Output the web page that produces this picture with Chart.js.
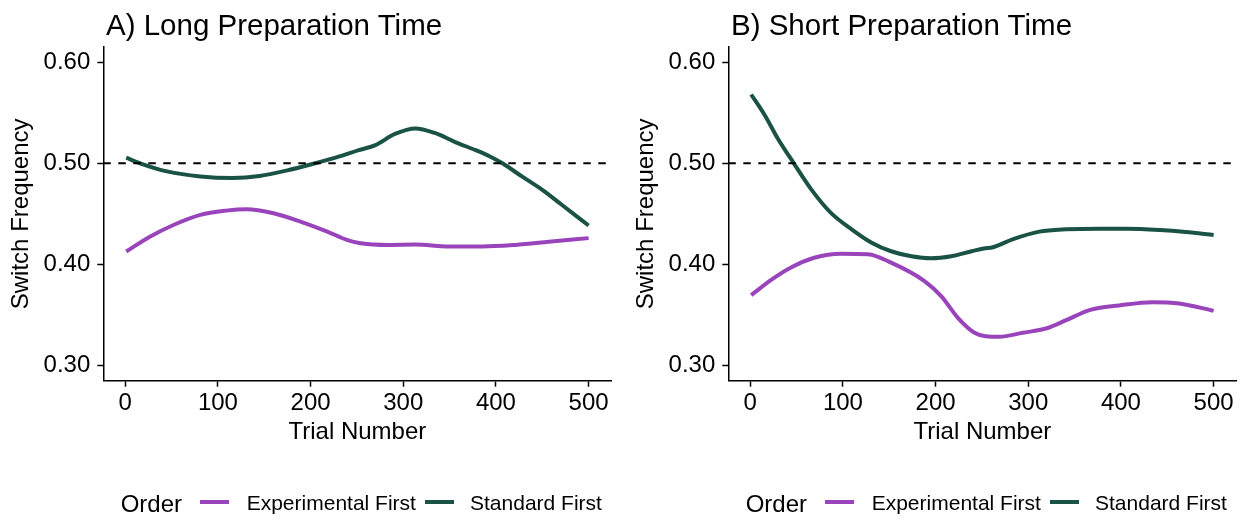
<!DOCTYPE html>
<html><head><meta charset="utf-8">
<script src="https://cdn.jsdelivr.net/npm/chart.js@4/dist/chart.umd.min.js"></script>
<style>
body{margin:0;background:#fff;width:1246px;height:520px;overflow:hidden;font-family:"Liberation Sans",Arial,Helvetica,sans-serif;color:#000;}
.panel{position:absolute;top:0;width:621px;height:520px;}
.panel canvas{position:absolute;left:0;top:0;}
.ttl{position:absolute;left:106px;top:10px;font-size:29.5px;line-height:1;white-space:nowrap;}
.lgT{position:absolute;left:120.7px;top:491.7px;font-size:24px;line-height:1;white-space:nowrap;}
.lgS{position:absolute;top:500.3px;width:29px;height:4px;}
.lgL{position:absolute;top:492.2px;font-size:21px;line-height:1;white-space:nowrap;}
</style>
</head><body>
<div class="panel" id="pA" style="left:0px"><canvas id="cA" width="621" height="520"></canvas></div>
<div class="panel" id="pB" style="left:625px"><canvas id="cB" width="621" height="520"></canvas></div>
<script>
// ---- data ----
const panelTitles = ['A) Long Preparation Time', 'B) Short Preparation Time'];
const seriesNames = ['Experimental First', 'Standard First'];
const legendTitle = 'Order';
const xTitle = 'Trial Number';
const yTitle = 'Switch Frequency';
const trialTicks = [0, 100, 200, 300, 400, 500];
const freqTicks = [0.30, 0.40, 0.50, 0.60];
const chanceLevel = 0.5;

const longExpX = [1, 27, 52, 81, 109, 131, 160, 189, 218, 239, 254, 284, 313, 349, 385, 421, 457, 500];
const longExpY = [0.4127, 0.4276, 0.439, 0.449, 0.4532, 0.4546, 0.4506, 0.4424, 0.4325, 0.4243, 0.421, 0.4193, 0.4196, 0.4177, 0.4177, 0.4193, 0.4223, 0.426];
const longStdX = [1, 16, 45, 81, 116, 145, 175, 203, 232, 252, 270, 291, 313, 334, 356, 378, 393, 407, 428, 450, 471, 500];
const longStdY = [0.5055, 0.500, 0.492, 0.487, 0.4855, 0.4875, 0.493, 0.4995, 0.507, 0.513, 0.518, 0.529, 0.5345, 0.530, 0.521, 0.513, 0.507, 0.500, 0.487, 0.4737, 0.459, 0.4385];

const shortExpX = [1, 23, 44, 69, 98, 127, 152, 188, 206, 224, 242, 254, 269, 294, 319, 341, 366, 398, 434, 463, 500];
const shortExpY = [0.3696, 0.385, 0.397, 0.4066, 0.4106, 0.410, 0.4017, 0.3835, 0.3686, 0.3472, 0.3324, 0.329, 0.3284, 0.3324, 0.3366, 0.3449, 0.3548, 0.3594, 0.3627, 0.3614, 0.3542];
const shortStdX = [1, 16, 30, 47, 66, 87, 109, 131, 152, 174, 195, 217, 239, 252, 262, 283, 312, 341, 377, 406, 442, 470, 500];
const shortStdY = [0.568, 0.547, 0.524, 0.500, 0.474, 0.451, 0.435, 0.4215, 0.413, 0.408, 0.406, 0.408, 0.413, 0.4158, 0.417, 0.4248, 0.4324, 0.4347, 0.4353, 0.4353, 0.434, 0.432, 0.429];

const seriesColors = ['#9a44bc', '#1a5246'];

// ---- drawing ----
const FONT = '"Liberation Sans", Arial, Helvetica, sans-serif';

const refLine = {
  id: 'refLine',
  afterDatasetsDraw(chart) {
    const {ctx, chartArea: a, scales: {y}} = chart;
    const py = y.getPixelForValue(chanceLevel);
    ctx.save();
    ctx.strokeStyle = '#000';
    ctx.lineWidth = 2;
    ctx.setLineDash([7.5, 7.5]);
    ctx.beginPath();
    ctx.moveTo(a.left, py);
    ctx.lineTo(a.right, py);
    ctx.stroke();
    ctx.restore();
  }
};

function pts(xs, ys) { return xs.map((x, i) => ({x: x, y: ys[i]})); }

function buildLegend(panel) {
  const t = document.createElement('div');
  t.className = 'lgT'; t.textContent = legendTitle; panel.appendChild(t);
  const sw = [200, 425], lx = [246.7, 470];
  seriesNames.forEach((n, i) => {
    const s = document.createElement('div');
    s.className = 'lgS'; s.style.left = sw[i] + 'px'; s.style.background = seriesColors[i];
    panel.appendChild(s);
    const l = document.createElement('div');
    l.className = 'lgL'; l.style.left = lx[i] + 'px'; l.textContent = n;
    panel.appendChild(l);
  });
}

function makePanel(panelId, canvasId, title, expX, expY, stdX, stdY) {
  const panel = document.getElementById(panelId);
  const tt = document.createElement('div');
  tt.className = 'ttl'; tt.textContent = title; panel.appendChild(tt);
  buildLegend(panel);

  const axisCommon = {
    grid: {display: true, drawOnChartArea: false, drawTicks: true, tickLength: 6, tickWidth: 1.5, color: '#000'},
    border: {display: true, color: '#000', width: 1.5}
  };

  new Chart(document.getElementById(canvasId), {
    type: 'line',
    data: {
      datasets: [
        {label: seriesNames[0], data: pts(expX, expY), borderColor: seriesColors[0], backgroundColor: seriesColors[0],
         borderWidth: 4, pointRadius: 0, cubicInterpolationMode: 'monotone', fill: false},
        {label: seriesNames[1], data: pts(stdX, stdY), borderColor: seriesColors[1], backgroundColor: seriesColors[1],
         borderWidth: 4, pointRadius: 0, cubicInterpolationMode: 'monotone', fill: false}
      ]
    },
    options: {
      responsive: false,
      animation: false,
      devicePixelRatio: 1,
      layout: {padding: {top: 47, left: 0, right: 9.5, bottom: 69.6}},
      plugins: {legend: {display: false}, tooltip: {enabled: false}, title: {display: false}},
      scales: {
        x: Object.assign({
          type: 'linear', min: -23.7, max: 524.7,
          afterBuildTicks: s => { s.ticks = trialTicks.map(v => ({value: v})); },
          afterFit: s => { s.height = 69.7; },
          ticks: {color: '#000', font: {family: FONT, size: 24}, padding: 2, maxRotation: 0, autoSkip: false,
                  callback: v => String(v)},
          title: {display: true, text: xTitle, color: '#000', font: {family: FONT, size: 24}, padding: {top: 0, bottom: 4}}
        }, axisCommon),
        y: Object.assign({
          type: 'linear', min: 0.285, max: 0.615,
          afterBuildTicks: s => { s.ticks = freqTicks.map(v => ({value: v})); },
          afterFit: s => { s.width = 103.3; },
          ticks: {color: '#000', font: {family: FONT, size: 24}, padding: 7, autoSkip: false,
                  callback: v => Number(v).toFixed(2)},
          title: {display: true, text: yTitle, color: '#000', font: {family: FONT, size: 24}, padding: {top: 7, bottom: 0}}
        }, axisCommon)
      }
    },
    plugins: [refLine]
  });
}

makePanel('pA', 'cA', panelTitles[0], longExpX, longExpY, longStdX, longStdY);
makePanel('pB', 'cB', panelTitles[1], shortExpX, shortExpY, shortStdX, shortStdY);
</script>
</body></html>
